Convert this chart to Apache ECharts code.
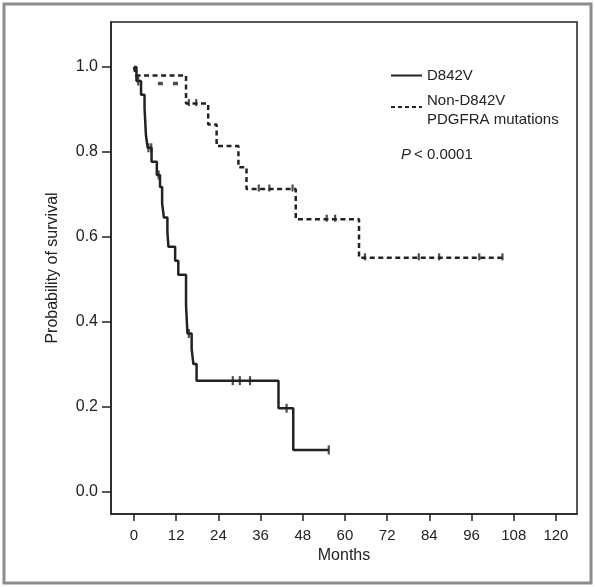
<!DOCTYPE html>
<html>
<head>
<meta charset="utf-8">
<script src="https://cdn.jsdelivr.net/npm/echarts/dist/echarts.min.js"></script>
<style>
html,body{margin:0;padding:0;background:#fff;}
#chart{width:595px;height:587px;}
</style>
</head>
<body>
<div id="chart"></div>
<script>
// ---- data (months, survival probability) ----
const d842vTimes = [0, 0.7, 2.0, 3.0, 3.2, 3.4, 3.9, 5.0, 6.5, 7.4, 8.0, 8.5, 9.5, 9.8, 11.7, 12.6, 14.8, 15.2, 16.4, 16.9, 17.8, 41.1, 45.3, 55.4];
const d842vSurv  = [1.0, 0.967, 0.935, 0.903, 0.871, 0.839, 0.81, 0.777, 0.746, 0.718, 0.68, 0.646, 0.612, 0.577, 0.544, 0.511, 0.44, 0.373, 0.336, 0.301, 0.262, 0.197, 0.099, 0.099];
const d842vCensorTimes = [1.2, 4.1, 4.9, 7.0, 15.6, 28.1, 30.1, 33.0, 43.4, 55.4];
const d842vCensorSurv  = [0.967, 0.81, 0.81, 0.746, 0.373, 0.262, 0.262, 0.262, 0.197, 0.099];

const nonD842vTimes = [0, 0.5, 14.8, 21.1, 23.5, 29.7, 32.0, 46.0, 64.0, 104.8];
const nonD842vSurv  = [1.0, 0.98, 0.914, 0.865, 0.814, 0.764, 0.713, 0.642, 0.551, 0.551];
const nonD842vCensorTimes = [15.6, 17.7, 35.5, 38.5, 45.1, 54.8, 57.2, 65.7, 81.0, 86.8, 98.2, 104.8];
const nonD842vCensorSurv  = [0.914, 0.914, 0.713, 0.713, 0.713, 0.642, 0.642, 0.551, 0.551, 0.551, 0.551, 0.551];
const nonD842vLowMarkTimes = [7.5, 11.8];
const nonD842vLowMarkSurv  = [0.98, 0.98];

const xTicks = [0, 12, 24, 36, 48, 60, 72, 84, 96, 108, 120];
const yTicks = [0, 0.2, 0.4, 0.6, 0.8, 1.0];
const legendNames = ['D842V', 'Non-D842V', 'PDGFRA mutations'];
const pText = '< 0.0001';

const zip = (a, b) => a.map((v, i) => [v, b[i]]);
const FONT = '"Liberation Sans", Arial, Helvetica, sans-serif';
const INK = '#222';

const chart = echarts.init(document.getElementById('chart'), null, {renderer: 'canvas'});
chart.setOption({
  animation: false,
  backgroundColor: '#fff',
  grid: {left: 111, top: 22, width: 466, height: 492, show: true, borderColor: INK, borderWidth: 1.5, backgroundColor: 'transparent'},
  xAxis: {
    type: 'value', min: -6.54, max: 126,
    axisLine: {show: true, onZero: false, lineStyle: {color: INK, width: 1.5}},
    axisTick: {show: true, customValues: xTicks, length: 7, lineStyle: {color: INK, width: 1.5}},
    axisLabel: {customValues: xTicks, color: INK, fontSize: 15, fontFamily: FONT, margin: 14},
    splitLine: {show: false},
    name: 'Months', nameLocation: 'middle', nameGap: 32,
    nameTextStyle: {color: INK, fontSize: 16, fontFamily: FONT}
  },
  yAxis: {
    type: 'value', min: -0.0518, max: 1.106,
    axisLine: {show: true, onZero: false, lineStyle: {color: INK, width: 1.5}},
    axisTick: {show: true, customValues: yTicks, length: 9, lineStyle: {color: INK, width: 1.5}},
    axisLabel: {customValues: yTicks, color: INK, fontSize: 16, fontFamily: FONT, margin: 13,
      formatter: v => v.toFixed(1)},
    splitLine: {show: false},
    name: 'Probability of survival', nameLocation: 'middle', nameGap: 50,
    nameTextStyle: {color: INK, fontSize: 16, fontFamily: FONT}
  },
  series: [
    {type: 'line', name: 'Non-D842V PDGFRA mutations', step: 'end', data: zip(nonD842vTimes, nonD842vSurv),
     showSymbol: false, lineStyle: {color: INK, width: 2.5, type: [5, 3.5]}, z: 2},
    {type: 'line', name: 'D842V', step: 'end', data: zip(d842vTimes, d842vSurv),
     showSymbol: false, lineStyle: {color: INK, width: 2.5, type: 'solid'}, z: 3},
    {type: 'scatter', data: zip(d842vCensorTimes, d842vCensorSurv), symbol: 'rect', symbolSize: [2.2, 9],
     itemStyle: {color: INK}, z: 4},
    {type: 'scatter', data: zip(nonD842vCensorTimes, nonD842vCensorSurv), symbol: 'rect', symbolSize: [2.2, 7],
     symbolOffset: [0, -1], itemStyle: {color: INK}, z: 4},
    {type: 'scatter', data: zip(nonD842vLowMarkTimes, nonD842vLowMarkSurv), symbol: 'rect', symbolSize: [5, 3.5],
     symbolOffset: [0, 8], itemStyle: {color: INK}, z: 4}
  ],
  graphic: [
    {type: 'rect', shape: {x: 4, y: 4, width: 587, height: 579}, style: {fill: 'none', stroke: '#8c8c8c', lineWidth: 3}, silent: true},
    {type: 'line', shape: {x1: 391, y1: 75.5, x2: 422, y2: 75.5}, style: {stroke: INK, lineWidth: 2}},
    {type: 'text', x: 427, y: 75.5, style: {text: legendNames[0], fill: INK, font: '15px ' + FONT, textVerticalAlign: 'middle'}},
    {type: 'line', shape: {x1: 391, y1: 107, x2: 422, y2: 107}, style: {stroke: INK, lineWidth: 2, lineDash: [4, 3]}},
    {type: 'text', x: 427, y: 101, style: {text: legendNames[1], fill: INK, font: '15px ' + FONT, textVerticalAlign: 'middle'}},
    {type: 'text', x: 427, y: 120, style: {text: legendNames[2], fill: INK, font: '15px ' + FONT, textVerticalAlign: 'middle'}},
    {type: 'text', x: 401, y: 155, style: {text: 'P', fill: INK, font: 'italic 15px ' + FONT, textVerticalAlign: 'middle'}},
    {type: 'text', x: 414, y: 155, style: {text: pText, fill: INK, font: '15px ' + FONT, textVerticalAlign: 'middle'}}
  ]
});
</script>
</body>
</html>
